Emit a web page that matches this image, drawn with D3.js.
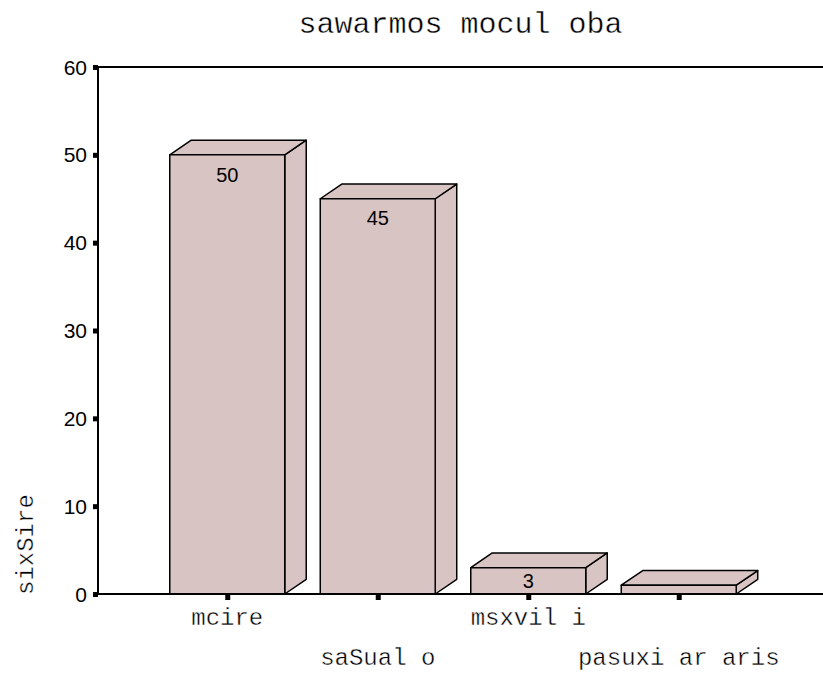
<!DOCTYPE html>
<html>
<head>
<meta charset="utf-8">
<script src="https://cdn.jsdelivr.net/npm/d3@7"></script>
<style>
  html, body { margin: 0; padding: 0; background: #fff; }
  svg { display: block; }
</style>
</head>
<body>
<svg id="chart" width="823" height="673"></svg>
<script>
const categories = ["mcire", "saSual o", "msxvil i", "pasuxi ar aris"];
const values = [50, 45, 3, 1];
const valueLabels = ["50", "45", "3", null];
const yTicks = [0, 10, 20, 30, 40, 50, 60];
const titleText = "sawarmos mocul oba";
const yTitle = "sixSire";

(function () {
const svg = d3.select("#chart");
const plotLeft = 98, plotRight = 823, plotTop = 67, plotBottom = 594;
const depthX = 21.5, depthY = -14.7;
const fill = "#d9c4c4";
const monoFont = "'Liberation Mono', 'DejaVu Sans Mono', monospace";
const sansFont = "'Liberation Sans', Arial, sans-serif";

function thin(sel) {
  return sel.attr("stroke", "#fff").attr("stroke-width", 0.4).attr("paint-order", "fill");
}

const y = d3.scaleLinear().domain([0, 60]).range([plotBottom, plotTop]);
const x = d3.scaleBand().domain(categories).range([152, 754])
  .paddingInner(0.236).paddingOuter(0.118);

// Title
thin(svg.append("text")
  .attr("x", (plotLeft + plotRight) / 2).attr("y", 33)
  .attr("text-anchor", "middle")
  .attr("font-family", monoFont).attr("font-size", 30)
  .attr("fill", "#000")
  .text(titleText));

// frame top line
svg.append("line").attr("x1", plotLeft).attr("x2", plotRight).attr("y1", plotTop).attr("y2", plotTop)
  .attr("stroke", "#000").attr("stroke-width", 2);

// Bars (3D)
const bars = svg.append("g");
categories.forEach((c, i) => {
  const x0 = x(c), x1 = x(c) + x.bandwidth();
  const yt = y(values[i]), yb = y(0);
  const g = bars.append("g").attr("stroke", "#000").attr("stroke-width", 1.5)
    .attr("stroke-linejoin", "round").attr("fill", fill);
  g.append("path").attr("d",
    `M${x1},${yb} L${x1 + depthX},${yb + depthY} L${x1 + depthX},${yt + depthY} L${x1},${yt} Z`);
  g.append("path").attr("d",
    `M${x0},${yt} L${x0 + depthX},${yt + depthY} L${x1 + depthX},${yt + depthY} L${x1},${yt} Z`);
  g.append("rect").attr("x", x0).attr("y", yt).attr("width", x1 - x0).attr("height", yb - yt);
  if (valueLabels[i] !== null) {
    const fh = yb - yt;
    const cy = Math.min(yt + 19.5, yt + fh / 2);
    svg.append("text")
      .attr("x", (x0 + x1) / 2).attr("y", cy)
      .attr("dy", "0.36em")
      .attr("text-anchor", "middle")
      .attr("font-family", sansFont).attr("font-size", 20)
      .text(valueLabels[i]);
  }
});

// baseline
svg.append("line").attr("x1", plotLeft).attr("x2", plotRight).attr("y1", plotBottom).attr("y2", plotBottom)
  .attr("stroke", "#000").attr("stroke-width", 2);

// Y axis
const yAxis = svg.append("g");
yAxis.append("line").attr("x1", plotLeft).attr("x2", plotLeft).attr("y1", plotTop).attr("y2", plotBottom)
  .attr("stroke", "#000").attr("stroke-width", 2);
yTicks.forEach(t => {
  yAxis.append("rect").attr("x", plotLeft - 5).attr("y", y(t) - 2).attr("width", 5).attr("height", 5)
    .attr("fill", "#000");
  yAxis.append("text")
    .attr("x", plotLeft - 11).attr("y", y(t)).attr("dy", "0.36em")
    .attr("text-anchor", "end")
    .attr("font-family", sansFont).attr("font-size", 21)
    .text(t);
});

// X ticks + labels
categories.forEach((c, i) => {
  const cx = x(c) + x.bandwidth() / 2;
  svg.append("rect").attr("x", cx - 2).attr("y", plotBottom + 1).attr("width", 5).attr("height", 5)
    .attr("fill", "#000");
  thin(svg.append("text")
    .attr("x", cx).attr("y", i % 2 === 0 ? 625 : 665)
    .attr("text-anchor", "middle")
    .attr("font-family", monoFont).attr("font-size", 24)
    .text(c));
});

// Y title
thin(svg.append("text")
  .attr("transform", `translate(33,595) rotate(-90)`)
  .attr("text-anchor", "start")
  .attr("font-family", monoFont).attr("font-size", 24)
  .text(yTitle));
})();
</script>
</body>
</html>
